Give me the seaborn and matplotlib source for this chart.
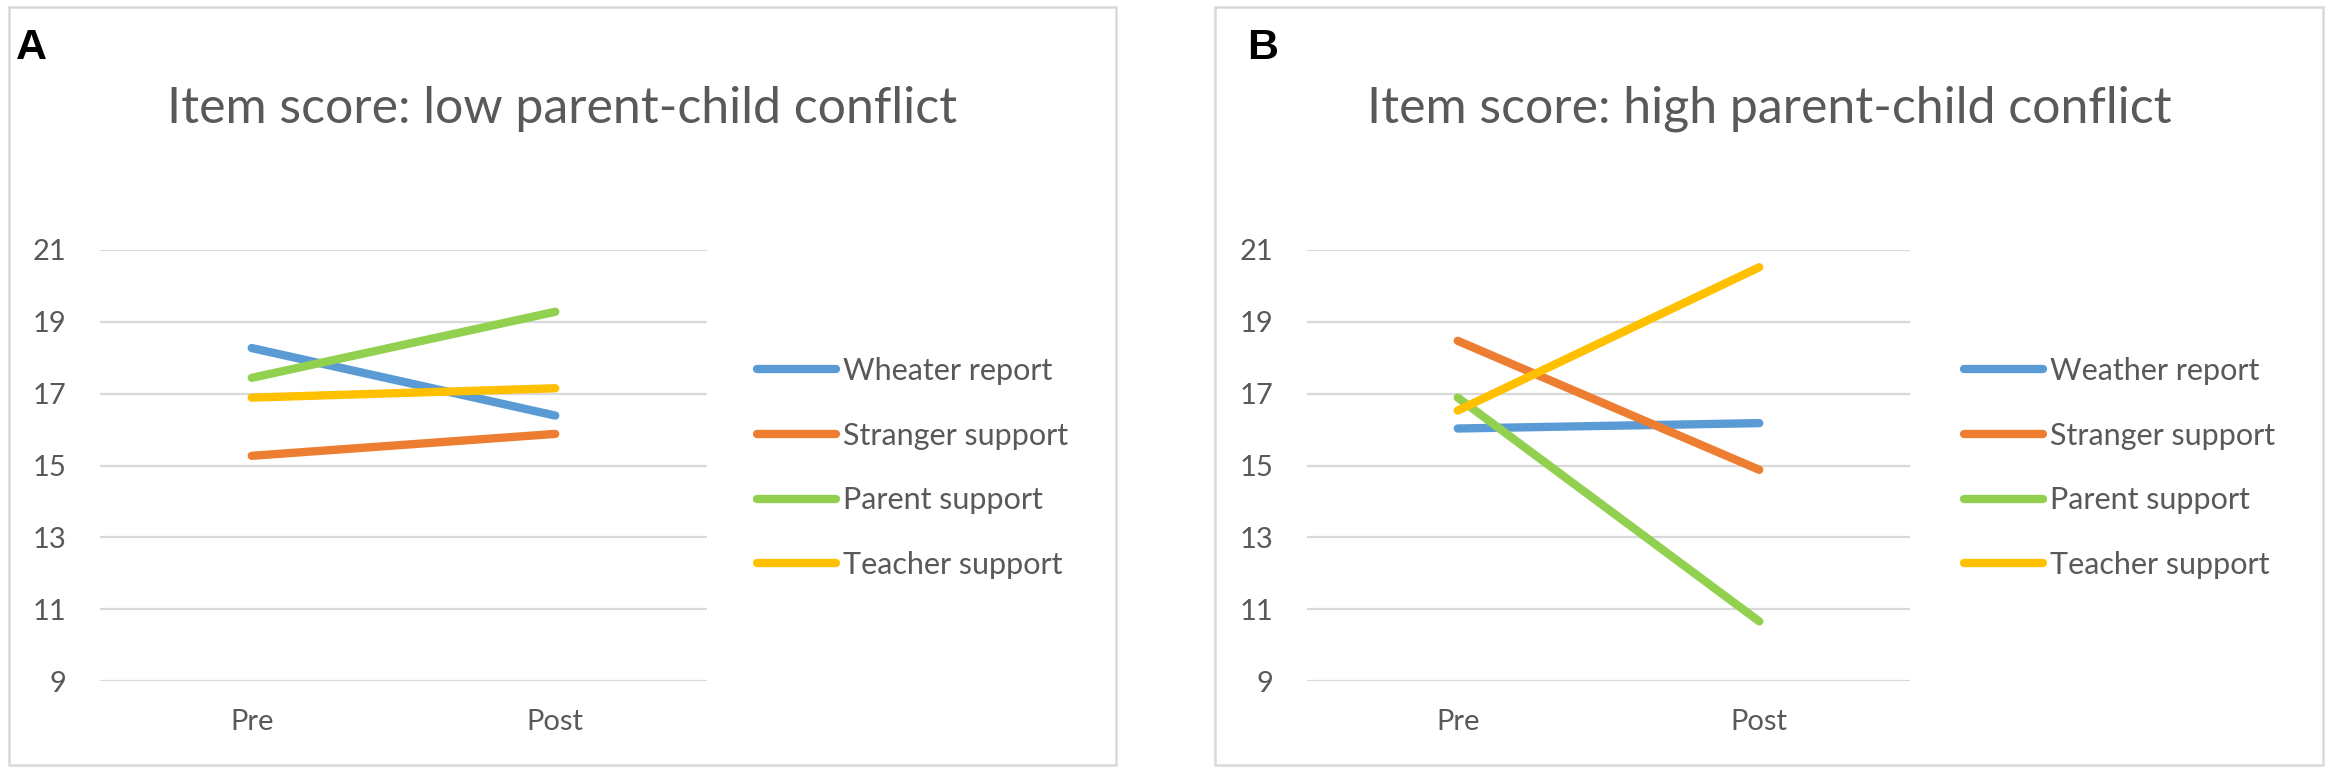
import pandas as pd
import matplotlib.pyplot as plt
import seaborn as sns
from matplotlib.patches import Rectangle

# ---- data ----
time_points = ["Pre", "Post"]
groups_low = ["Wheater report", "Stranger support", "Parent support", "Teacher support"]
groups_high = ["Weather report", "Stranger support", "Parent support", "Teacher support"]
low_pre = [18.27, 15.27, 17.44, 16.89]
low_post = [16.39, 15.88, 19.28, 17.15]
high_pre = [16.03, 18.47, 16.89, 16.53]
high_post = [16.18, 14.88, 10.66, 20.52]
y_ticks = [9, 11, 13, 15, 17, 19, 21]
colors = ["#5B9BD5", "#ED7D31", "#92D050", "#FFC000"]

W, H = 2342, 775
TEXT = "#595959"
GRID = "#D9D9D9"


def long_table(groups, pre, post):
    rows = []
    for g, a, b in zip(groups, pre, post):
        rows.append({"Time": time_points[0], "Group": g, "Score": a})
        rows.append({"Time": time_points[1], "Group": g, "Score": b})
    return pd.DataFrame(rows)


sns.set_theme(style="white")
plt.rcParams["font.family"] = ["Lato", "DejaVu Sans"]

fig = plt.figure(figsize=(W / 100, H / 100), dpi=100)


def px(x, y):
    # pixel coords (top-left origin) -> figure fraction
    return x / W, 1 - y / H


panels = [
    dict(df=long_table(groups_low, low_pre, low_post), groups=groups_low,
         box=(9, 7, 1116, 765), ax=(100, 250, 707, 681), letter="A",
         letter_x=16, leg_x=757,
         title="Item score: low parent-child conflict"),
    dict(df=long_table(groups_high, high_pre, high_post), groups=groups_high,
         box=(1215, 7, 2323, 765), ax=(1307, 250, 1910, 681), letter="B",
         letter_x=1247, leg_x=1964,
         title="Item score: high parent-child conflict"),
]

for p in panels:
    x0, y0, x1, y1 = p["box"]
    fig.add_artist(Rectangle(px(x0, y1), (x1 - x0) / W, (y1 - y0) / H,
                             transform=fig.transFigure, fill=False,
                             ec=GRID, lw=1.8))
    ax0, ay0, ax1, ay1 = p["ax"]
    l, b = px(ax0, ay1)
    ax = fig.add_axes([l, b, (ax1 - ax0) / W, (ay1 - ay0) / H])

    sns.lineplot(data=p["df"], x="Time", y="Score", hue="Group",
                 hue_order=p["groups"], palette=colors, linewidth=6,
                 sort=False, ax=ax, solid_capstyle="round")

    ax.set_xlim(-0.5, 1.5)
    ax.set_ylim(9, 21)
    ax.set_yticks(y_ticks)
    ax.set_xlabel("")
    ax.set_ylabel("")
    ax.yaxis.grid(True, color=GRID, lw=1.6)
    ax.set_axisbelow(True)
    for s in ax.spines.values():
        s.set_visible(False)
    ax.tick_params(axis="y", length=0, pad=24, labelsize=21, labelcolor=TEXT)
    ax.tick_params(axis="x", length=0, pad=20, labelsize=21, labelcolor=TEXT)

    handles, labels = ax.get_legend_handles_labels()
    leg = ax.legend(handles, labels, loc="center left",
                    bbox_to_anchor=px(p["leg_x"], 468),
                    bbox_transform=fig.transFigure, frameon=False,
                    fontsize=22, handlelength=2.6, handletextpad=0.2,
                    labelspacing=1.2, borderpad=0, borderaxespad=0)
    for t in leg.get_texts():
        t.set_color(TEXT)
    for h in leg.get_lines():
        h.set_linewidth(6)
        h.set_solid_capstyle("round")

    cx = (x0 + x1) / 2
    fig.text(*px(cx, 123), p["title"], ha="center", va="baseline",
             fontsize=36, color=TEXT)
    fig.text(*px(p["letter_x"], 59), p["letter"], ha="left", va="baseline",
             fontsize=31, fontweight="bold", color="black",
             family=["Liberation Sans", "DejaVu Sans"])

fig.savefig("out.png", dpi=100, facecolor="white")
